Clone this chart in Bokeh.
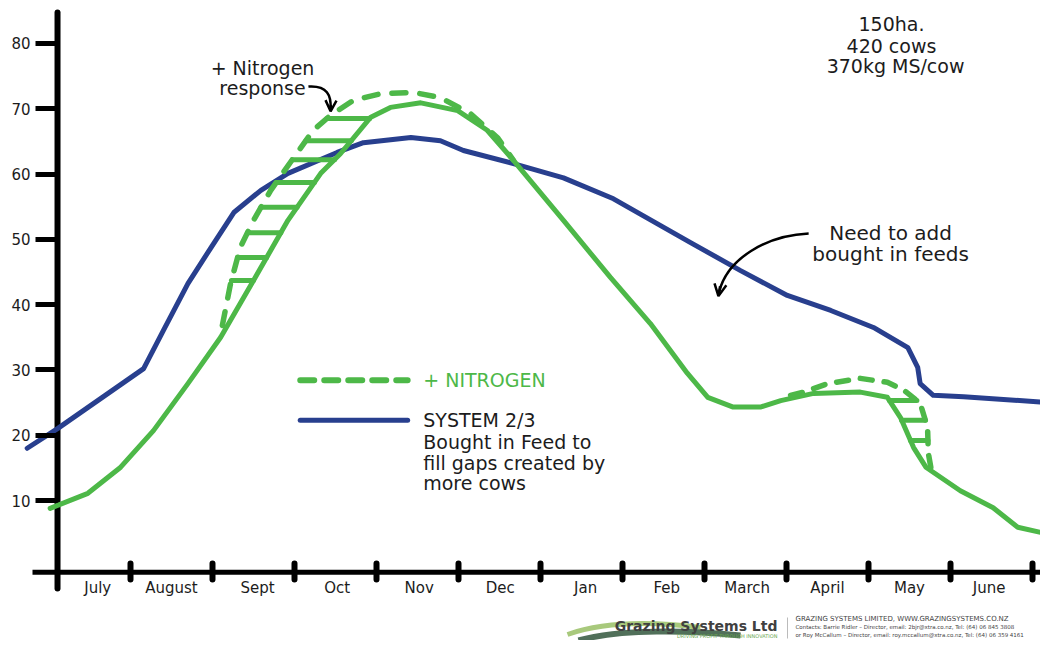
import numpy as np
from bokeh.plotting import figure
from bokeh.models import LinearAxis, FixedTicker, Label, Arrow, OpenHead, Range1d
from bokeh.embed import file_html
from bokeh.resources import INLINE

# ---------------- data ----------------
months = ["July", "August", "Sept", "Oct", "Nov", "Dec", "Jan", "Feb",
          "March", "April", "May", "June"]
month_label_pos = [0.6, 1.5, 2.55, 3.52, 4.52, 5.51, 6.55, 7.54, 8.52, 9.5, 10.5, 11.47]
month_bounds = [1, 2, 3, 4, 5, 6, 7, 8, 9, 10, 11, 12]
y_ticks = [10, 20, 30, 40, 50, 60, 70, 80]

# SYSTEM 2/3 (blue)
system_x = [-0.26, 0.11, 1.16, 1.40, 1.70, 1.98, 2.26, 2.59, 2.92, 3.52, 3.84, 4.42,
            4.78, 5.06, 5.67, 6.28, 6.89, 7.83, 8.44, 9.01, 9.54, 10.06, 10.48,
            10.60, 10.63, 10.79, 11.16, 12.18]
system_y = [18.0, 21.0, 30.2, 36.0, 43.2, 48.7, 54.1, 57.5, 60.1, 63.3, 64.8, 65.6,
            65.1, 63.6, 61.6, 59.4, 56.2, 49.5, 45.2, 41.4, 39.1, 36.5, 33.4,
            30.4, 27.9, 26.1, 25.9, 25.0]

# base pasture growth (green solid)
base_x = [0.02, 0.48, 0.88, 1.28, 1.70, 2.10, 2.50, 2.92, 3.32, 3.56, 3.93, 4.17,
          4.54, 4.99, 5.35, 5.67, 6.28, 6.85, 7.34, 7.79, 8.04, 8.35, 8.68, 8.93,
          9.33, 9.90, 10.23, 10.39, 10.55, 10.70, 11.12, 11.52, 11.82, 12.18]
base_y = [8.8, 11.1, 15.1, 20.7, 27.9, 35.0, 43.7, 52.9, 60.1, 63.1, 68.7, 70.2,
          70.9, 69.7, 66.7, 62.1, 52.9, 44.2, 37.1, 29.5, 25.8, 24.3, 24.3, 25.3,
          26.4, 26.6, 25.8, 22.7, 18.1, 15.1, 11.5, 8.9, 5.9, 4.9]

# + NITROGEN (green dashed), spring and autumn responses
nitro_x = [2.12, 2.22, 2.34, 2.50, 2.71, 2.99, 3.23, 3.44, 3.72, 4.05, 4.45,
           4.78, 5.15, 5.48, 5.67]
nitro_y = [36.8, 43.2, 48.8, 52.9, 57.5, 62.5, 66.7, 69.0, 71.3, 72.3, 72.5,
           71.7, 69.2, 65.5, 62.1]
nitro2_x = [9.05, 9.21, 9.50, 9.90, 10.23, 10.43, 10.63, 10.72, 10.73, 10.76]
nitro2_y = [26.1, 26.6, 27.9, 28.7, 28.1, 26.9, 24.9, 21.2, 17.2, 15.1]

# hatching levels of the nitrogen response areas
hatch1_levels = [68.5, 65.1, 62.2, 58.7, 54.9, 51.0, 47.2, 43.7]
hatch2_levels = [25.3, 22.3, 19.2]

# ---------------- styles ----------------
GREEN = "#4db848"
BLUE = "#283f8e"
INK = "#1c1c1c"
FONT = "DejaVu Sans"

# pixel -> data helpers for decorative placement (page pixels)
def DX(px):
    return (px - 48) / 82.0

def DY(py):
    return (565.3 - py) / 6.53

W, H = 1040, 640
p = figure(width=W, height=H, output_backend="svg", toolbar_location=None,
           tools="", x_axis_type=None, y_axis_type=None,
           x_range=Range1d(DX(0), DX(W)), y_range=Range1d(DY(H), DY(0)),
           min_border=0)
p.outline_line_color = None
p.background_fill_color = "white"
p.border_fill_color = "white"

Y_AXIS_AT = 0.11
X_AXIS_AT = -1.0

# axis lines (limited extent like the original drawing)
p.segment([Y_AXIS_AT], [DY(588)], [Y_AXIS_AT], [DY(12)], line_color="black",
          line_width=6, line_cap="round")
p.segment([DX(32)], [X_AXIS_AT], [DX(W)], [X_AXIS_AT], line_color="black",
          line_width=5)

yax = LinearAxis(fixed_location=Y_AXIS_AT, ticker=FixedTicker(ticks=y_ticks))
yax.axis_line_color = None
yax.major_tick_in = 0
yax.major_tick_out = 22
yax.major_tick_line_width = 5
yax.major_tick_line_color = "black"
yax.minor_tick_line_color = None
yax.major_label_text_font = FONT
yax.major_label_text_font_size = "15px"
yax.major_label_text_color = INK
yax.major_label_standoff = 5
p.add_layout(yax, "left")

xax = LinearAxis(fixed_location=X_AXIS_AT,
                 ticker=FixedTicker(ticks=month_label_pos, minor_ticks=month_bounds))
xax.axis_line_color = None
xax.major_tick_line_color = None
xax.major_tick_in = 0
xax.major_tick_out = 0
xax.minor_tick_in = 9
xax.minor_tick_out = 7
xax.minor_tick_line_width = 6
xax.minor_tick_line_cap = "round"
xax.minor_tick_line_color = "black"
xax.major_label_overrides = {pos: m for pos, m in zip(month_label_pos, months)}
xax.major_label_text_font = FONT
xax.major_label_text_font_size = "15px"
xax.major_label_text_color = INK
xax.major_label_standoff = 0
p.add_layout(xax, "below")

# curves
p.line(system_x, system_y, line_color=BLUE, line_width=5, line_cap="round", line_join="round")
p.line(base_x, base_y, line_color=GREEN, line_width=5, line_cap="round", line_join="round")
p.line(nitro_x, nitro_y, line_color=GREEN, line_width=5.5, line_dash="14 14",
       line_cap="round", line_join="round")
p.line(nitro2_x, nitro2_y, line_color=GREEN, line_width=5.5, line_dash="12 12",
       line_cap="round", line_join="round")

# hatching between dashed and solid curves
k1 = int(np.argmax(nitro_y))
kb = int(np.argmax(base_y[:20]))
h1_left = np.interp(hatch1_levels, nitro_y[:k1 + 1], nitro_x[:k1 + 1])
h1_right = np.interp(hatch1_levels, base_y[:kb + 1], base_x[:kb + 1])
p.segment(h1_left, hatch1_levels, h1_right, hatch1_levels, line_color=GREEN,
          line_width=5, line_cap="round")

k2 = int(np.argmax(nitro2_y))
bx = np.array(base_x); by = np.array(base_y)
sel = (bx >= 9.9) & (bx <= 11.2)
h2_left = np.interp(hatch2_levels, by[sel][::-1], bx[sel][::-1])
h2_right = np.interp(hatch2_levels, np.array(nitro2_y[k2:])[::-1], np.array(nitro2_x[k2:])[::-1])
p.segment(h2_left, hatch2_levels, h2_right, hatch2_levels, line_color=GREEN,
          line_width=5, line_cap="round")

# annotation arrows
p.bezier(x0=[3.17], y0=[73.4], x1=[3.44], y1=[70.0], cx0=[3.40], cy0=[73.6],
         cx1=[3.45], cy1=[72.0], line_color="black", line_width=2.5)
p.add_layout(Arrow(end=OpenHead(size=11, line_width=2.5, line_color="black"),
                   x_start=3.443, y_start=70.6, x_end=3.44, y_end=69.6,
                   line_width=2.5, line_color="black"))
p.bezier(x0=[9.27], y0=[50.9], x1=[8.18], y1=[42.0], cx0=[8.75], cy0=[50.6],
         cx1=[8.28], cy1=[47.0], line_color="black", line_width=2.5)
p.add_layout(Arrow(end=OpenHead(size=12, line_width=2.5, line_color="black"),
                   x_start=8.19, y_start=42.8, x_end=8.17, y_end=41.3,
                   line_width=2.5, line_color="black"))

def lab(x, y, text, size="19px", color=INK, align="center", style="normal"):
    p.add_layout(Label(x=x, y=y, text=text, text_font=FONT, text_font_size=size,
                       text_color=color, text_align=align, text_baseline="middle",
                       text_font_style=style))

lab(2.61, 76.3, "+ Nitrogen")
lab(2.61, 73.2, "response")
lab(10.27, 51.0, "Need to add", size="20px")
lab(10.27, 47.8, "bought in feeds", size="20px")
lab(10.28, 83.0, "150ha.", size="19px")
lab(10.28, 79.6, "420 cows", size="19px")
lab(10.33, 76.5, "370kg MS/cow", size="19px")

# legend
LEG_X = [3.07, 4.38]
p.line(LEG_X, [28.4, 28.4], line_color=GREEN, line_width=6, line_dash="14 10", line_cap="round")
p.line(LEG_X, [22.3, 22.3], line_color=BLUE, line_width=5, line_cap="round")
lab(4.57, 28.4, "+ NITROGEN", size="19px", color=GREEN, align="left")
lab(4.57, 22.3, "SYSTEM 2/3", size="19px", align="left")
lab(4.57, 19.0, "Bought in Feed to", size="19px", align="left")
lab(4.57, 15.8, "fill gaps created by", size="19px", align="left")
lab(4.57, 12.7, "more cows", size="19px", align="left")

# ---------------- footer (logo + contact block) ----------------
p.bezier(x0=[DX(567), DX(578)], y0=[DY(634), DY(640)], x1=[DX(700), DX(740)],
         y1=[DY(627), DY(635)], cx0=[DX(610), DX(620)], cy0=[DY(619), DY(628)],
         cx1=[DX(660), DX(690)], cy1=[DY(622), DY(630)],
         line_color=["#a8c97c", "#51705a"], line_width=[5, 6])
p.segment([DX(787)], [DY(617)], [DX(787)], [DY(638)], line_color="#bbbbbb", line_width=1)
p.add_layout(Label(x=DX(777), y=DY(625), text="Grazing Systems Ltd", text_font=FONT,
                   text_font_size="14px", text_font_style="bold", text_color="#404040",
                   text_align="right", text_baseline="middle"))
p.add_layout(Label(x=DX(777), y=DY(635), text="DRIVING PROFIT THROUGH INNOVATION",
                   text_font=FONT, text_font_size="5px", text_color="#6aa84f",
                   text_align="right", text_baseline="middle"))
foot_lines = ["GRAZING SYSTEMS LIMITED, WWW.GRAZINGSYSTEMS.CO.NZ",
              "Contacts: Barrie Ridler \u2013 Director, email: 2bjr@xtra.co.nz, Tel: (64) 06 845 3808",
              "or Roy McCallum \u2013 Director, email: roy.mccallum@xtra.co.nz, Tel: (64) 06 359 4161"]
foot_sizes = ["7px", "5.5px", "5.5px"]
for i, t in enumerate(foot_lines):
    p.add_layout(Label(x=DX(795), y=DY(618 + 8 * i), text=t, text_font=FONT,
                       text_font_size=foot_sizes[i], text_color="#444444",
                       text_align="left", text_baseline="middle"))

open("out.html", "w").write(file_html(p, INLINE))
